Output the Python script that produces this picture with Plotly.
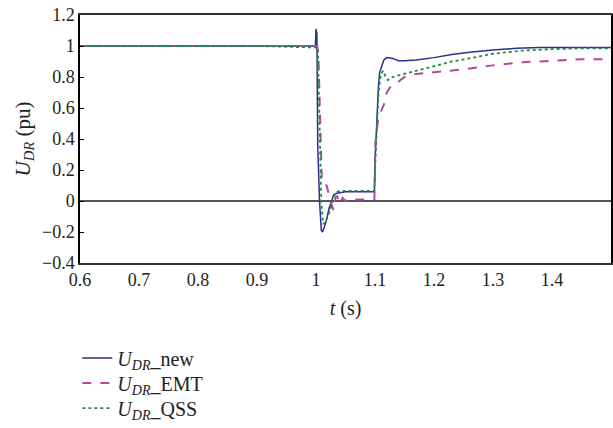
import plotly.graph_objects as go

# ---- data ----
t_new = [0.6, 0.7, 0.8, 0.9, 0.999, 1.0, 1.0015, 1.003, 1.006, 1.009, 1.011, 1.014, 1.018, 1.022, 1.026,
         1.03, 1.035, 1.05, 1.07, 1.099, 1.1005, 1.102, 1.104, 1.106, 1.108, 1.111, 1.115, 1.12, 1.13,
         1.14, 1.15, 1.17, 1.2, 1.23, 1.26, 1.3, 1.34, 1.38, 1.42, 1.46, 1.5]
u_new = [1.0, 1.0, 1.0, 1.0, 1.0, 1.11, 1.08, 0.35, 0.0, -0.19, -0.20, -0.17, -0.12, -0.05, 0.0,
         0.04, 0.05, 0.06, 0.06, 0.06, 0.3, 0.45, 0.55, 0.75, 0.83, 0.87, 0.91, 0.925, 0.92,
         0.905, 0.905, 0.91, 0.925, 0.945, 0.96, 0.975, 0.985, 0.99, 0.99, 0.99, 0.99]

t_emt = [0.6, 0.7, 0.8, 0.9, 1.002, 1.004, 1.006, 1.008, 1.01, 1.013, 1.018, 1.022, 1.026, 1.03, 1.033,
         1.036, 1.04, 1.045, 1.05, 1.055, 1.06, 1.07, 1.08, 1.099, 1.1005, 1.103, 1.106, 1.11, 1.115,
         1.12, 1.125, 1.13, 1.14, 1.15, 1.17, 1.2, 1.25, 1.3, 1.35, 1.4, 1.45, 1.5]
u_emt = [1.0, 1.0, 1.0, 1.0, 1.0, 0.95, 0.6, 0.3, 0.12, 0.11, 0.1, 0.04, -0.02, -0.06, 0.02,
         0.03, -0.02, 0.02, 0.0, 0.01, 0.0, 0.01, 0.01, 0.01, 0.37, 0.45, 0.55, 0.58, 0.62,
         0.7, 0.73, 0.75, 0.77, 0.8, 0.82, 0.83, 0.85, 0.875, 0.895, 0.905, 0.915, 0.915]

t_qss = [0.6, 0.7, 0.8, 0.9, 1.003, 1.005, 1.007, 1.009, 1.012, 1.016, 1.02, 1.024, 1.028, 1.032,
         1.036, 1.04, 1.06, 1.08, 1.099, 1.1005, 1.103, 1.106, 1.11, 1.114, 1.118, 1.122, 1.126,
         1.13, 1.14, 1.15, 1.17, 1.2, 1.23, 1.26, 1.3, 1.35, 1.4, 1.45, 1.5]
u_qss = [1.0, 1.0, 1.0, 1.0, 0.99, 0.7, 0.3, 0.0, -0.15, -0.13, -0.1, -0.06, 0.0, 0.04,
         0.06, 0.065, 0.065, 0.065, 0.065, 0.25, 0.45, 0.7, 0.82, 0.84, 0.8, 0.78, 0.79,
         0.8, 0.81, 0.82, 0.84, 0.87, 0.9, 0.92, 0.95, 0.97, 0.98, 0.985, 0.985]

x_ticks = [0.6, 0.7, 0.8, 0.9, 1.0, 1.1, 1.2, 1.3, 1.4]
x_tick_labels = ["0.6", "0.7", "0.8", "0.9", "1", "1.1", "1.2", "1.3", "1.4"]
y_ticks = [-0.4, -0.2, 0, 0.2, 0.4, 0.6, 0.8, 1.0, 1.2]
y_tick_labels = ["\u22120.4", "\u22120.2", "0", "0.2", "0.4", "0.6", "0.8", "1", "1.2"]

names = ["<i>U</i><sub><i>DR</i></sub>_new",
         "<i>U</i><sub><i>DR</i></sub>_EMT",
         "<i>U</i><sub><i>DR</i></sub>_QSS"]

FONT = "Liberation Serif"

fig = go.Figure()
fig.add_trace(go.Scatter(x=t_new, y=u_new, mode="lines", name=names[0], legend="legend",
                         line=dict(color="#2b2f8c", width=1.5)))
fig.add_trace(go.Scatter(x=t_emt, y=u_emt, mode="lines", name=names[1], legend="legend2",
                         line=dict(color="#b4489f", width=2, dash="dash")))
fig.add_trace(go.Scatter(x=t_qss, y=u_qss, mode="lines", name=names[2], legend="legend3",
                         line=dict(color="#1f8a45", width=1.8, dash="dot")))

def leg(yc):
    return dict(x=-0.005, y=yc, xanchor="left", yanchor="middle",
                font=dict(family=FONT, size=20), bgcolor="rgba(0,0,0,0)", itemwidth=30)

fig.update_layout(
    width=613, height=428,
    margin=dict(l=80, r=2, t=15, b=165, autoexpand=False),
    paper_bgcolor="white", plot_bgcolor="white",
    font=dict(family=FONT, size=18, color="#222"),
    showlegend=True,
    legend=leg(-0.383), legend2=leg(-0.484), legend3=leg(-0.585),
    xaxis=dict(range=[0.6, 1.5], tickvals=x_ticks, ticktext=x_tick_labels,
               showgrid=False, zeroline=False, showline=True, linecolor="#333",
               linewidth=1.5, mirror=True, ticks="", automargin=False,
               title=dict(text="<i>t</i> (s)", font=dict(family=FONT, size=20), standoff=12)),
    yaxis=dict(range=[-0.4, 1.2], tickvals=y_ticks, ticktext=y_tick_labels,
               showgrid=False, zeroline=True, zerolinecolor="#555", zerolinewidth=1.8,
               showline=True, linecolor="black", linewidth=1.5, mirror=True,
               ticks="inside", ticklen=4, tickcolor="black", automargin=False,
               title=dict(text="<i>U</i><sub><i>DR</i></sub> (pu)",
                          font=dict(family=FONT, size=21), standoff=6)),
)

fig.write_html("out.html")
